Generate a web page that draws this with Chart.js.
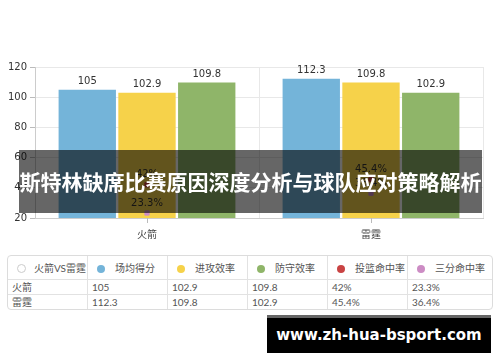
<!DOCTYPE html>
<html>
<head>
<meta charset="utf-8">
<script src="https://cdn.jsdelivr.net/npm/chart.js@4/dist/chart.umd.min.js"></script>
<style>
  html, body { margin: 0; padding: 0; background: #fff; }
  body { width: 500px; height: 362px; position: relative; overflow: hidden; font-family: Lato, "Noto Sans CJK SC", sans-serif; }
  #chartBox { position: absolute; left: 0; top: 0; width: 500px; height: 245px; }
  .banner {
    position: absolute; left: 19px; top: 150px; width: 463px; height: 63px;
    background: rgba(0, 0, 0, 0.6); color: #fff;
    font: bold 21px "Noto Sans CJK SC", sans-serif;
    line-height: 63px; text-align: center; white-space: nowrap;
  }
  table.data {
    position: absolute; left: 7px; top: 255px; width: 486px;
    border-collapse: separate; border-spacing: 0;
    border: 1px solid #dcdcdc; border-radius: 4px;
    font-size: 10px; color: #555; table-layout: fixed;
  }
  table.data td { padding: 0 0 0 4px; border-right: 1px solid #e2e2e2; border-top: 1px solid #e2e2e2; white-space: nowrap; }
  table.data td:last-child { border-right: none; }
  table.data tr:first-child td { border-top: none; height: 23px; padding-left: 9px; }
  table.data tr.row td { height: 14px; line-height: 14px; }
  .dot { display: inline-block; width: 8px; height: 8px; border-radius: 50%; margin-right: 10px; vertical-align: -1px; }
  .plus { display: inline-block; width: 7px; height: 7px; border-radius: 50%; border: 1px solid #ccc; margin-right: 8px; vertical-align: -1px; }
  .mark {
    position: absolute; left: 267px; top: 315px; width: 224px; height: 38px;
    background: #000; border-top: 3px solid #666; box-sizing: border-box;
    color: #fff; font: bold 15px "DejaVu Sans", sans-serif; line-height: 34px; text-align: center;
  }
</style>
</head>
<body>
<div id="chartBox"><canvas id="chart"></canvas></div>
<div class="banner">斯特林缺席比赛原因深度分析与球队应对策略解析</div>
<table class="data" id="dataTable"></table>
<div class="mark">www.zh-hua-bsport.com</div>
<script>
const teams = ['火箭', '雷霆'];
const avgPoints = [105, 112.3];
const offRating = [102.9, 109.8];
const defRating = [109.8, 102.9];
const fgPct = [42, 45.4];
const threePct = [23.3, 36.4];
const yTicks = [20, 40, 60, 80, 100, 120];

const series = [
  { name: '场均得分', values: avgPoints, color: '#74b4d9', kind: 'bar', suffix: '' },
  { name: '进攻效率', values: offRating, color: '#f6d24a', kind: 'bar', suffix: '' },
  { name: '防守效率', values: defRating, color: '#8fb569', kind: 'bar', suffix: '' },
  { name: '投篮命中率', values: fgPct, color: '#c94343', kind: 'point', suffix: '%' },
  { name: '三分命中率', values: threePct, color: '#cc8cc4', kind: 'point', suffix: '%' },
];

function buildTable() {
  const table = document.getElementById('dataTable');
  let head = '<tr><td><span class="plus"></span>火箭VS雷霆</td>';
  series.forEach((s) => {
    head += `<td><span class="dot" style="background:${s.color}"></span>${s.name}</td>`;
  });
  head += '</tr>';
  const rows = teams
    .map((team, i) => {
      const cells = series.map((s) => `<td>${s.values[i]}${s.suffix}</td>`).join('');
      return `<tr class="row"><td>${team}</td>${cells}</tr>`;
    })
    .join('');
  table.innerHTML = `<colgroup><col style="width:80px"><col style="width:80px"><col style="width:80px"><col style="width:80px"><col style="width:80px"><col></colgroup>${head}${rows}`;
}

// value labels above bars and points, plus centre tick marks on the x axis
const labelPlugin = {
  id: 'valueLabels',
  afterDatasetsDraw(chart) {
    const { ctx } = chart;
    ctx.save();
    ctx.font = '10px "DejaVu Sans", sans-serif';
    ctx.fillStyle = '#333';
    ctx.textAlign = 'center';
    ctx.textBaseline = 'bottom';
    chart.data.datasets.forEach((ds, di) => {
      const meta = chart.getDatasetMeta(di);
      meta.data.forEach((el, i) => {
        const gap = ds.type === 'line' ? 5 : 3;
        ctx.fillText(ds.data[i] + (ds.suffix || ''), el.x, el.y - gap);
      });
    });
    const xs = chart.scales.x;
    ctx.strokeStyle = '#bbb';
    ctx.lineWidth = 1;
    teams.forEach((t, i) => {
      const x = Math.round(xs.getPixelForValue(i)) + 0.5;
      ctx.beginPath();
      ctx.moveTo(x, xs.top);
      ctx.lineTo(x, xs.top + 5);
      ctx.stroke();
    });
    ctx.restore();
  },
};

const datasets = series.map((s) => {
  if (s.kind === 'bar') {
    return {
      type: 'bar',
      label: s.name,
      data: s.values,
      backgroundColor: s.color,
      categoryPercentage: 0.8,
      barPercentage: 0.96,
      order: 2,
    };
  }
  return {
    type: 'line',
    label: s.name,
    data: s.values,
    suffix: s.suffix,
    showLine: false,
    pointStyle: 'rect',
    pointRadius: 3,
    backgroundColor: s.color,
    borderColor: s.color,
    order: 1,
  };
});

buildTable();

new Chart(document.getElementById('chart'), {
  data: { labels: teams, datasets },
  plugins: [labelPlugin],
  options: {
    responsive: true,
    maintainAspectRatio: false,
    animation: false,
    layout: { padding: { top: 67, right: 17, bottom: 0, left: 0 } },
    plugins: { legend: { display: false }, tooltip: { enabled: false } },
    scales: {
      x: {
        offset: true,
        grid: { offset: true, color: '#e8e8e8', drawTicks: false },
        border: { color: '#ccc' },
        ticks: { color: '#444', font: { size: 10, family: '"Noto Sans CJK SC", sans-serif' }, padding: 10 },
        afterFit: (scale) => { scale.height = 27; },
      },
      y: {
        min: yTicks[0],
        max: yTicks[yTicks.length - 1],
        afterBuildTicks: (scale) => { scale.ticks = yTicks.map((v) => ({ value: v })); },
        grid: { color: '#e8e8e8', tickLength: 5, tickColor: '#bbb' },
        border: { color: '#ccc' },
        ticks: { color: '#333', font: { size: 10, family: '"DejaVu Sans", sans-serif' }, padding: 3 },
        afterFit: (scale) => { scale.width = 35; },
      },
    },
  },
});
</script>
</body>
</html>
